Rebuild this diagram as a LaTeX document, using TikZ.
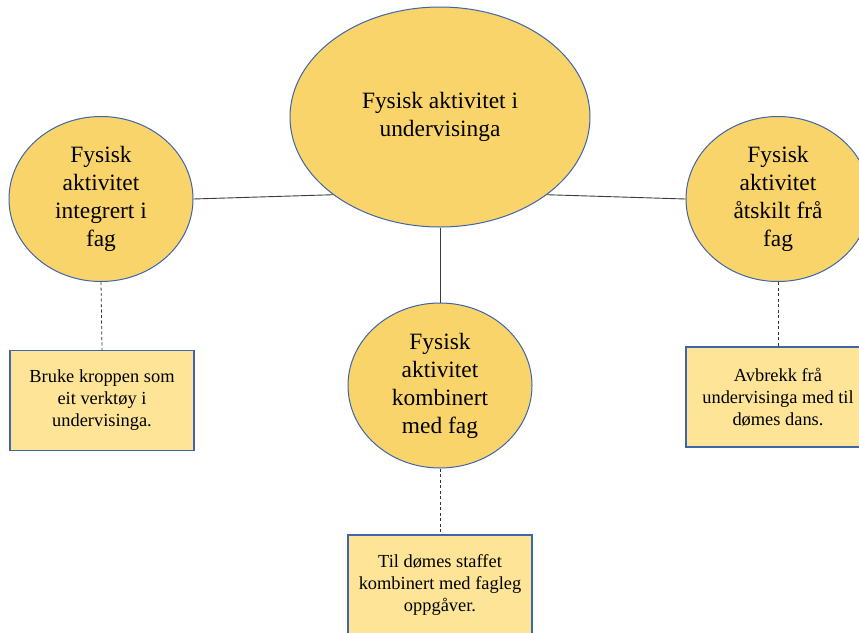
\documentclass[tikz,border=0pt]{standalone}
\usepackage{fontspec}
\setmainfont{Liberation Serif}
\usetikzlibrary{shapes.geometric}
\definecolor{ellfill}{RGB}{249,212,106}
\definecolor{boxfill}{RGB}{253,228,150}
\definecolor{edgeblue}{RGB}{62,100,170}
\definecolor{linegray}{RGB}{60,60,60}
\tikzset{
  bigell/.style={ellipse, draw=edgeblue, line width=1pt, fill=ellfill, inner sep=0pt,
    minimum width=300pt, minimum height=220pt, align=center,
    font=\rmfamily\fontsize{23.4pt}{28pt}\selectfont},
  smallell/.style={ellipse, draw=edgeblue, line width=1pt, fill=ellfill, inner sep=0pt,
    minimum width=184pt, minimum height=165pt, align=center,
    font=\rmfamily\fontsize{23.4pt}{28pt}\selectfont},
  infobox/.style={rectangle, draw=edgeblue, line width=1.2pt, fill=boxfill, inner sep=0pt,
    minimum width=184pt, minimum height=100pt, align=center,
    font=\rmfamily\fontsize{18.4pt}{22pt}\selectfont},
  solidlink/.style={draw=linegray, line width=0.9pt},
  dashlink/.style={draw=black!80, line width=0.8pt, dash pattern=on 3pt off 2.5pt}
}
\begin{document}
\begin{tikzpicture}[x=1pt,y=1pt]
\useasboundingbox (0,0) rectangle (859,-632);
\node[bigell] (c) at (440,-117) {Fysisk aktivitet i\\undervisinga};
\node[smallell] (l) at (101,-199) {Fysisk\\aktivitet\\integrert i\\fag};
\node[smallell] (r) at (778,-199) {Fysisk\\aktivitet\\åtskilt frå\\fag};
\node[smallell] (b) at (440,-385.5) {Fysisk\\aktivitet\\kombinert\\med fag};
\node[infobox] (lb) at (102,-400.5) {Bruke kroppen som\\eit verktøy i\\undervisinga.};
\node[infobox] (rb) at (778,-397) {Avbrekk frå\\undervisinga med til\\dømes dans.};
\node[infobox] (bb) at (440,-585) {Til dømes staffet\\kombinert med fagleg\\oppgåver.};
\draw[solidlink] (l.east) -- (c.216);
\draw[solidlink] (c.324) -- (r.west);
\draw[solidlink] (c.south) -- (b.north);
\draw[dashlink] (l.south) -- (lb.north);
\draw[dashlink] (r.south) -- (rb.north);
\draw[dashlink] (b.south) -- (bb.north);
\end{tikzpicture}
\end{document}
